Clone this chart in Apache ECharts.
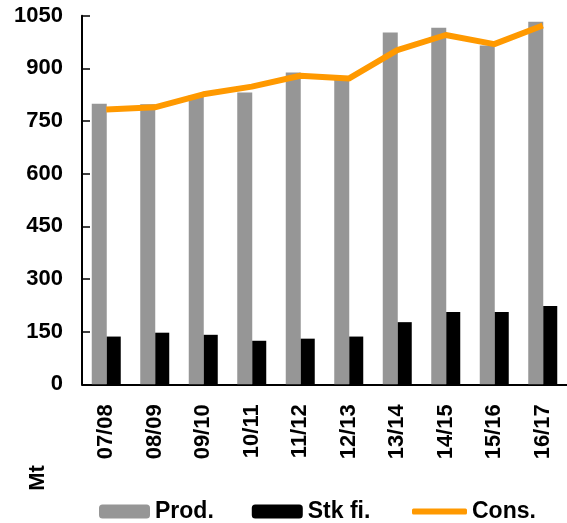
<!DOCTYPE html>
<html>
<head>
<meta charset="utf-8">
<script src="https://cdn.jsdelivr.net/npm/echarts@6/dist/echarts.min.js"></script>
<style>
  html, body { margin: 0; padding: 0; background: #fff; }
  #chart { width: 567px; height: 523px; }
</style>
</head>
<body>
<div id="chart"></div>
<script>
const seasons = ['07/08', '08/09', '09/10', '10/11', '11/12', '12/13', '13/14', '14/15', '15/16', '16/17']
const prod = [799, 798, 824, 831, 888, 872, 1002, 1016, 965, 1033]
const stocks = [136, 147, 141, 124, 130, 136, 177, 206, 206, 223]
const cons = [783, 789, 826, 848, 879, 871, 952, 995, 969, 1022]
const yTicks = { min: 0, max: 1050, interval: 150 }

const font = 'Liberation Sans, Arial, sans-serif'
const legendText = { fontFamily: font, fontWeight: 'bold', fontSize: 23, color: '#000' }

const chart = echarts.init(document.getElementById('chart'))
chart.setOption({
  animation: false,
  grid: { left: 82, right: -4, top: 15.7, bottom: 138.7 },
  legend: [
    {
      left: 94,
      top: 495,
      itemWidth: 51,
      itemHeight: 14,
      itemGap: 38,
      textStyle: legendText,
      data: ['Prod.', 'Stk fi.']
    },
    {
      left: 407,
      top: 495,
      itemWidth: 55,
      itemHeight: 6,
      icon: 'roundRect',
      textStyle: legendText,
      data: ['Cons.']
    }
  ],
  xAxis: {
    type: 'category',
    data: seasons,
    axisLine: { lineStyle: { color: '#000', width: 2 } },
    axisTick: { show: false },
    axisLabel: {
      rotate: 90,
      margin: 20,
      color: '#000',
      fontFamily: font,
      fontWeight: 'bold',
      fontSize: 22
    }
  },
  yAxis: {
    type: 'value',
    min: yTicks.min,
    max: yTicks.max,
    interval: yTicks.interval,
    splitLine: { show: false },
    axisLine: { show: true, lineStyle: { color: '#000', width: 2 } },
    axisTick: { show: true, inside: true, length: 8, lineStyle: { color: '#000', width: 1.5 } },
    axisLabel: {
      margin: 19,
      color: '#000',
      fontFamily: font,
      fontWeight: 'bold',
      fontSize: 22,
      formatter: v => String(v)
    }
  },
  graphic: [{
    type: 'text',
    x: 38,
    y: 478,
    rotation: Math.PI / 2,
    style: {
      text: 'Mt',
      fill: '#000',
      font: 'bold 22px ' + font,
      textAlign: 'center',
      textVerticalAlign: 'middle'
    }
  }],
  series: [
    {
      name: 'Prod.',
      type: 'bar',
      data: prod,
      barWidth: 15,
      barGap: '0%',
      itemStyle: { color: '#969696' }
    },
    {
      name: 'Stk fi.',
      type: 'bar',
      data: stocks,
      barWidth: 14,
      barGap: '0%',
      itemStyle: { color: '#000' }
    },
    {
      name: 'Cons.',
      type: 'line',
      data: cons,
      symbol: 'none',
      z: 5,
      lineStyle: { color: '#FF9900', width: 6 },
      itemStyle: { color: '#FF9900' }
    }
  ]
})
</script>
</body>
</html>
